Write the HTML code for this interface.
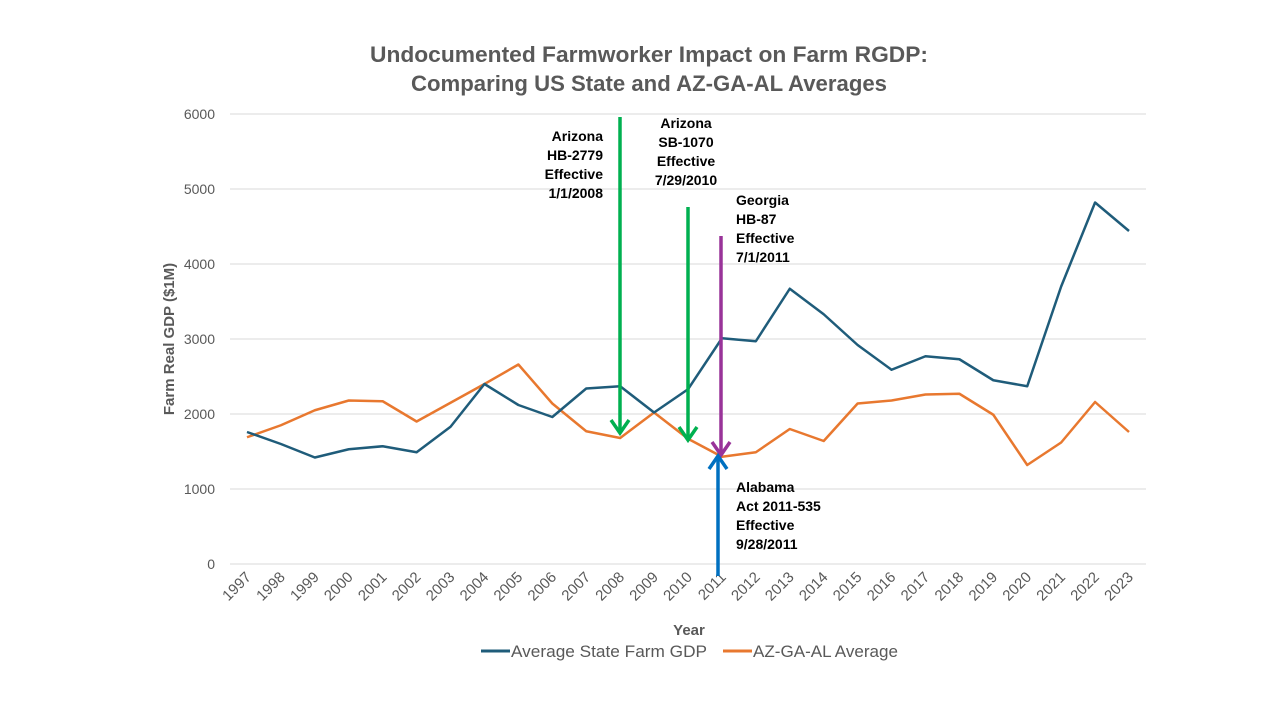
<!DOCTYPE html>
<html><head><meta charset="utf-8"><style>
html,body{margin:0;padding:0;background:#fff;}
svg{display:block;font-family:"Liberation Sans",sans-serif;}
</style></head><body>
<svg id="chart" width="1280" height="720" viewBox="0 0 1280 720" xmlns="http://www.w3.org/2000/svg">
<g fill="#595959" font-weight="bold" font-size="22" text-anchor="middle">
<text x="649" y="62" textLength="558" lengthAdjust="spacingAndGlyphs">Undocumented Farmworker Impact on Farm RGDP:</text>
<text x="649" y="91" textLength="476" lengthAdjust="spacingAndGlyphs">Comparing US State and AZ-GA-AL Averages</text>
</g>
<g id="grid"></g>
<g id="yticks" fill="#595959" font-size="14" text-anchor="end"></g>
<g id="xticks" fill="#595959" font-size="15"></g>
<text transform="translate(174,339) rotate(-90)" text-anchor="middle" font-size="15" font-weight="bold" fill="#595959">Farm Real GDP ($1M)</text>
<text x="689" y="635" text-anchor="middle" font-size="15" font-weight="bold" fill="#595959">Year</text>
<g id="series"></g>
<g id="annotations" font-size="14" font-weight="bold" fill="#000"></g>
<g font-size="16.5" fill="#595959">
<g><line x1="481" y1="651" x2="510" y2="651" stroke="#1f5c7a" stroke-width="3"/><text x="511" y="657" textLength="196" lengthAdjust="spacingAndGlyphs">Average State Farm GDP</text></g>
<g><line x1="723" y1="651" x2="752" y2="651" stroke="#e8782f" stroke-width="3"/><text x="753" y="657" textLength="145" lengthAdjust="spacingAndGlyphs">AZ-GA-AL Average</text></g>
</g>
</svg>
<script>
const years=[1997,1998,1999,2000,2001,2002,2003,2004,2005,2006,2007,2008,2009,2010,2011,2012,2013,2014,2015,2016,2017,2018,2019,2020,2021,2022,2023];
const avgState=[1760,1600,1420,1530,1570,1490,1830,2400,2120,1960,2340,2370,2020,2330,3010,2970,3670,3330,2920,2590,2770,2730,2450,2370,3700,4820,4440];
const azgaal=[1690,1850,2050,2180,2170,1900,2150,2400,2660,2140,1770,1680,2020,1670,1430,1490,1800,1640,2140,2180,2260,2270,1990,1320,1620,2160,1760];
const yTicks=[0,1000,2000,3000,4000,5000,6000];
const NS="http://www.w3.org/2000/svg";
function xs(i){return 247+i*(1129-247)/26;}
function ys(v){return 564-v*0.075;}
function mk(tag,attrs,parent){const e=document.createElementNS(NS,tag);for(const k in attrs)e.setAttribute(k,attrs[k]);parent.appendChild(e);return e;}
const grid=document.getElementById('grid'),yt=document.getElementById('yticks'),xt=document.getElementById('xticks'),ser=document.getElementById('series'),ann=document.getElementById('annotations');
yTicks.forEach(v=>{
 const l=mk('line',{x1:230,x2:1146,y1:ys(v),y2:ys(v),stroke:'#d9d9d9','stroke-width':1},grid);
 
 
 const t=mk('text',{x:215,y:ys(v)+5},yt);t.textContent=v;
 
 
});
years.forEach((y,i)=>{
 const t=mk('text',{transform:`translate(${xs(i)+5},${ys(0)+14}) rotate(-45)`,'text-anchor':'end'},xt);t.textContent=y;
 
 
});
function line(vals,color,name){
 const p=mk('polyline',{points:vals.map((v,i)=>xs(i)+','+ys(v)).join(' '),fill:'none',stroke:color,'stroke-width':2.5,'stroke-linejoin':'round'},ser);
 
 
}
line(azgaal,'#e8782f','az-ga-al-line');
line(avgState,'#1f5c7a','average-state-line');
function arrow(x,y1,y2,color,name){
 const g=mk('g',{stroke:color,'stroke-width':3.5,fill:'none'},ann);
 
 
 mk('line',{x1:x,y1:y1,x2:x,y2:y2},g);
 const d=y2>y1?-1:1;
 mk('polyline',{points:`${x-9},${y2+d*13} ${x},${y2} ${x+9},${y2+d*13}`},g);
}
arrow(620,117,433,'#00b050','arrow-az-hb2779');
arrow(688,207,440,'#00b050','arrow-az-sb1070');
arrow(721,236,455,'#993399','arrow-ga-hb87');
arrow(718,576,456,'#0070c0','arrow-al-act');
function label(lines,x,y,anchor,name){
 const t=mk('text',{x:x,y:y,'text-anchor':anchor},ann);
 
 
 lines.forEach((s,i)=>{const ts=mk('tspan',{x:x,dy:i?19:0},t);ts.textContent=s;});
}
label(['Arizona','HB-2779','Effective','1/1/2008'],603,141,'end','label-az-hb2779');
label(['Arizona','SB-1070','Effective','7/29/2010'],686,128,'middle','label-az-sb1070');
label(['Georgia','HB-87','Effective','7/1/2011'],736,205,'start','label-ga-hb87');
label(['Alabama','Act 2011-535','Effective','9/28/2011'],736,492,'start','label-al-act');
</script>
</body></html>
